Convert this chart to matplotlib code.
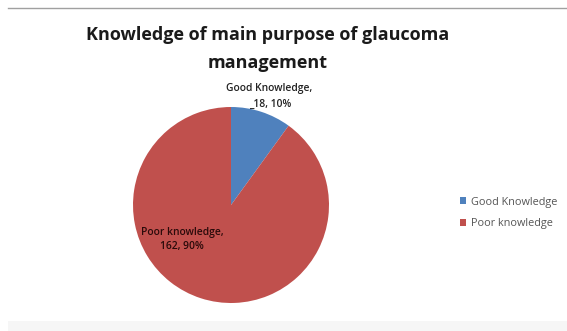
import matplotlib
matplotlib.use("Agg")
import matplotlib.pyplot as plt
from matplotlib.patches import Rectangle
from matplotlib.lines import Line2D

categories = ["Good Knowledge", "Poor knowledge"]
label_names = ["Good Knowledge", "Poor knowledge"]
counts = [18, 162]
percents = [10, 90]
colors = ["#4F81BD", "#C0504D"]
title = "Knowledge of main purpose of glaucoma\nmanagement"

W, H = 567, 331
fig = plt.figure(figsize=(W / 100, H / 100), dpi=100)
fig.patch.set_facecolor("white")

# top rule and faint bottom band
fig.add_artist(Line2D([8 / W, 1], [1 - 8 / H, 1 - 8 / H], color="#a0a0a0", lw=1.0))
fig.add_artist(Rectangle((8 / W, 0), 1 - 8 / W, 10 / H, facecolor="#f6f6f6", edgecolor="none"))

cx, cy, r = 231, 205, 98
ax = fig.add_axes([(cx - r) / W, (H - cy - r) / H, 2 * r / W, 2 * r / H])
wedges, _ = ax.pie(counts, colors=colors, startangle=90, counterclock=False,
                   radius=1.0, wedgeprops=dict(linewidth=0))
ax.set_xlim(-1, 1)
ax.set_ylim(-1, 1)
ax.set_aspect("auto")

fig.text(268 / W, 1 - 35 / H, title.split("\n")[0], ha="center", va="center",
         fontsize=13.0, fontweight="bold", family="Open Sans", color="#1a1a1a")
fig.text(268 / W, 1 - 63 / H, title.split("\n")[1], ha="center", va="center",
         fontsize=13.0, fontweight="bold", family="Open Sans", color="#1a1a1a")

lab_kw = dict(ha="center", va="center", fontsize=7.4, fontweight="semibold",
              family="Open Sans")
fig.text(269 / W, 1 - 88 / H, f"{label_names[0]},", color="#222222", **lab_kw)
fig.text(270 / W, 1 - 104 / H, f"_{counts[0]}, {percents[0]}%", color="#222222", **lab_kw)

fig.text(182 / W, 1 - 232 / H, f"{label_names[1]},", color="#2a0a0a", **lab_kw)
fig.text(182 / W, 1 - 246 / H, f"{counts[1]}, {percents[1]}%", color="#2a0a0a", **lab_kw)

leg = fig.legend(wedges, categories, loc="center left",
                 bbox_to_anchor=(450 / W, 1 - 213 / H), frameon=False,
                 prop={"family": "Open Sans", "size": 7.8},
                 handlelength=0.6, handleheight=0.6, handletextpad=0.4,
                 labelspacing=1.0, labelcolor="#555555")

fig.savefig("out.png", dpi=100, facecolor="white")
